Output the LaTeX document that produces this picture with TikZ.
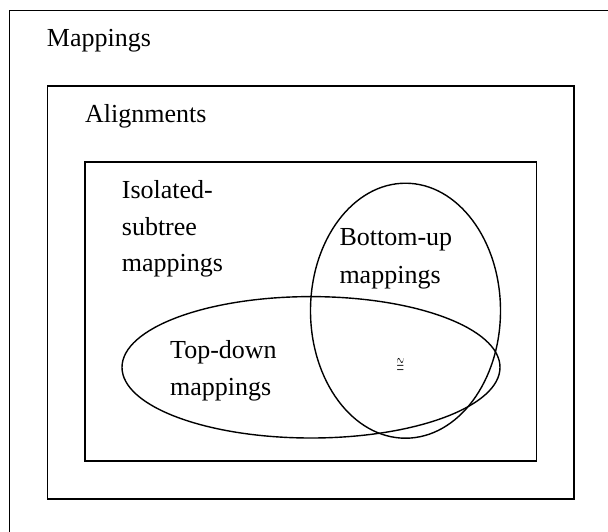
\documentclass[tikz,border=0pt]{standalone}
\usepackage{fontspec}
\usepackage{graphicx}
\setmainfont{Liberation Serif}
\usetikzlibrary{shapes.geometric}
\begin{document}
\begin{tikzpicture}[x=1pt,y=-1pt,
  boxline/.style={draw=black,line width=1.5pt},
  ovalline/.style={draw=black,line width=1.4pt,ellipse,inner sep=0pt},
  setbox/.style={boxline,rectangle,inner sep=0pt},
  lbl/.style={anchor=base west,inner sep=0pt,font=\fontsize{26}{30}\selectfont}]
\useasboundingbox (0,0) rectangle (608,531);
\clip (0,0) rectangle (608,531);
\fill[white] (0,0) rectangle (608,531);
% outer box (extends past the right and bottom edges)
\draw[boxline] (9.3,10.7) rectangle (640,560);
\node[setbox,minimum width=526.7pt,minimum height=413.2pt] (align) at (310.65,292.4) {};
\node[setbox,minimum width=451.3pt,minimum height=299pt] (iso) at (310.65,311.5) {};
\node[ovalline,minimum width=378pt,minimum height=141.4pt] (topdown) at (311,367.3) {};
\node[ovalline,minimum width=190pt,minimum height=255pt] (bottomup) at (405.5,310.7) {};
\node[lbl] (tmap) at (46.7,46.7) {Mappings};
\node[lbl] (talign) at (85,122.7) {Alignments};
\node[lbl] (tiso1) at (121.7,198.3) {Isolated-};
\node[lbl] (tiso2) at (121.7,235) {subtree};
\node[lbl] (tiso3) at (121.7,271.7) {mappings};
\node[lbl] (tbu1) at (339.3,245) {Bottom-up};
\node[lbl] (tbu2) at (339.3,283.3) {mappings};
\node[lbl] (ttd1) at (170,358.5) {Top-down};
\node[lbl] (ttd2) at (170,395) {mappings};
\node[inner sep=0pt] (cong) at (400.3,366.3) {\resizebox{7.5pt}{14pt}{$\cong$}};
\end{tikzpicture}
\end{document}
